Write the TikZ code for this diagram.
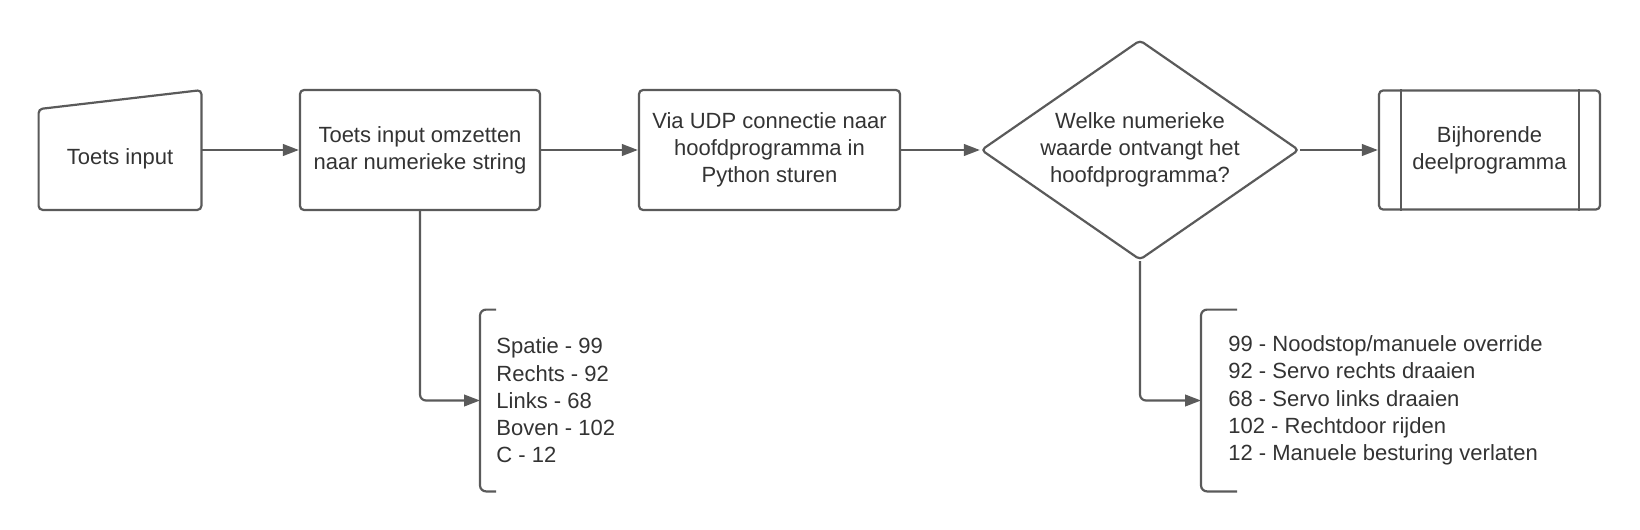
\documentclass[tikz,border=0pt]{standalone}
\usepackage{fontspec}
\setmainfont{Liberation Sans}
\usetikzlibrary{arrows.meta,positioning,calc,shapes.geometric}
\definecolor{lijn}{HTML}{5A5A5A}
\definecolor{tekst}{HTML}{333333}

\begin{document}
\begin{tikzpicture}[x=0.5pt,y=-0.5pt,
  font=\fontsize{11}{13.6}\selectfont,
  box/.style={rectangle,rounded corners=2pt,draw=lijn,line width=1.1pt,
              minimum height=60pt,align=center,text=tekst,inner sep=0pt},
  ruit/.style={diamond,aspect=1.47,rounded corners=2pt,draw=lijn,line width=1.1pt,
               minimum width=159pt,minimum height=110pt,align=center,
               text=tekst,inner sep=0pt},
  lijst/.style={anchor=west,minimum height=90.5pt,align=left,text=tekst,
                inner ysep=0pt},
  haak/.style={draw=lijn,line width=1.1pt,rounded corners=3pt},
  arr/.style={-{Triangle[length=8pt,width=5.8pt]},draw=lijn,line width=1.1pt,
              rounded corners=3pt}
]
  \useasboundingbox (0,0) rectangle (1640,530);

  % hoofdlijn
  \node[text=tekst,minimum width=81pt,minimum height=59.5pt,
        text height=17pt,text depth=2.3pt] (toets) at (120,150) {Toets input};
  \draw[haak,rounded corners=2pt] (toets.south west) -- ($(toets.north west)+(0,19)$)
    -- (toets.north east) -- (toets.south east) -- cycle;
  \node[box,minimum width=120pt] (omzetten) at (420,150)
    {Toets input omzetten\\naar numerieke string};
  \node[box,minimum width=130.5pt] (udp) at (769.5,150)
    {Via UDP connectie naar\\hoofdprogramma in\\Python sturen};
  \node[ruit] (vraag) at (1140,150)
    {Welke numerieke\\waarde ontvangt het\\hoofdprogramma?};
  \node[box,minimum width=110.5pt,minimum height=59.5pt] (deel) at (1489.5,150)
    {Bijhorende\\deelprogramma};
  \draw[haak,rounded corners=0pt] ([xshift=11.5pt]deel.north west) -- ([xshift=11.5pt]deel.south west);
  \draw[haak,rounded corners=0pt] ([xshift=-11pt]deel.north east) -- ([xshift=-11pt]deel.south east);

  \draw[arr] (toets.east) -- (omzetten.west);
  \draw[arr] (omzetten.east) -- (udp.west);
  \draw[arr] (udp.east) -- (vraag.west);
  \draw[arr] (vraag.east) -- (deel.west);

  % lijsten met waarden
  \node[lijst,inner xsep=8pt] (toetsen) at (480,400.5)
    {Spatie - 99\\Rechts - 92\\Links - 68\\Boven - 102\\C - 12};
  \draw[haak] ($(toetsen.north west)+(16,0)$) -- (toetsen.north west)
    -- (toetsen.south west) -- ++(16,0);
  \node[lijst,inner xsep=13.5pt] (waarden) at (1201,400.5)
    {99 - Noodstop/manuele override\\92 - Servo rechts draaien\\68 - Servo links draaien\\102 - Rechtdoor rijden\\12 - Manuele besturing verlaten};
  \draw[haak] ($(waarden.north west)+(36,0)$) -- (waarden.north west)
    -- (waarden.south west) -- ++(36,0);

  \draw[arr] (omzetten.south) |- (toetsen.west);
  \draw[arr] (vraag.south) |- (waarden.west);
\end{tikzpicture}
\end{document}
